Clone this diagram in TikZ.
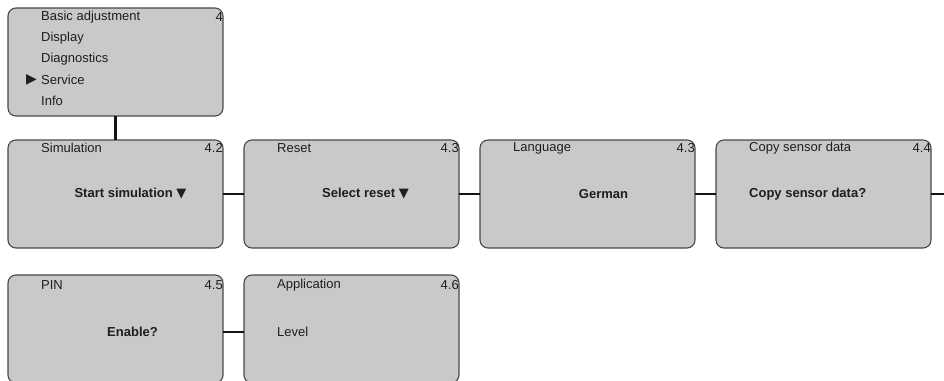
\documentclass[tikz,border=0pt]{standalone}
\usepackage{fontspec}
\setmainfont{Liberation Sans}
\newfontfamily\symfont{DejaVu Sans}
\usetikzlibrary{positioning}
\definecolor{panel}{RGB}{200,201,203}
\definecolor{rim}{RGB}{72,72,72}
\definecolor{ink}{RGB}{30,30,30}
\tikzset{
  screen/.style={draw=rim,line width=1.1pt,rounded corners=8pt,fill=panel,minimum width=215pt,minimum height=108pt,inner sep=0pt,outer sep=0pt},
  title/.style={anchor=west,inner sep=0pt,text=ink,font=\fontsize{13}{15}\selectfont},
  num/.style={anchor=east,inner sep=0pt,text=ink,font=\fontsize{13}{15}\selectfont},
  value/.style={inner sep=0pt,text=ink,font=\fontsize{13}{15}\selectfont\bfseries},
  link/.style={draw=black!92,line width=2.5pt}
}
\newcommand\downmark{{\symfont\fontsize{13}{15}\selectfont ▼}}

\begin{document}
\begin{tikzpicture}[node distance=21pt]
  \useasboundingbox (0,0) rectangle (944pt,-380pt);
  \coordinate (edge) at (944pt,0);
  % menu
  \node[screen,anchor=north west] (menu) at (8pt,-8pt) {};
  \foreach \item [count=\i from 0] in {Basic adjustment,Display,Diagnostics,Service,Info}
    \node[title] (item\i) at ([xshift=33pt,yshift=-9pt-21pt*\i]menu.north west) {\item};
  \node[num] (menunum) at ([yshift=-9pt]menu.north east) {4};
  \node[value,font=\symfont\fontsize{14}{16}\selectfont] (pointer) at ([xshift=23.5pt]menu.north west |- item3) {▶};
  % first row
  \node[screen,below=24pt of menu] (sim) {};
  \node[screen,right=of sim] (reset) {};
  \node[screen,right=of reset] (lang) {};
  \node[screen,right=of lang] (copy) {};
  % second row
  \node[screen,below=27pt of sim] (pin) {};
  \node[screen,right=of pin] (app) {};
  % titles and numbers
  \node[title] at ([xshift=33pt,yshift=-8pt]sim.north west) {Simulation};
  \node[num] at ([yshift=-8pt]sim.north east) {4.2};
  \node[title] at ([xshift=33pt,yshift=-8pt]reset.north west) {Reset};
  \node[num] at ([yshift=-8pt]reset.north east) {4.3};
  \node[title] at ([xshift=33pt,yshift=-8pt]lang.north west) {Language};
  \node[num] at ([yshift=-8pt]lang.north east) {4.3};
  \node[title] at ([xshift=33pt,yshift=-8pt]copy.north west) {Copy sensor data};
  \node[num] at ([yshift=-8pt]copy.north east) {4.4};
  \node[title] at ([xshift=33pt,yshift=-10pt]pin.north west) {PIN};
  \node[num] at ([yshift=-10pt]pin.north east) {4.5};
  \node[title] at ([xshift=33pt,yshift=-10pt]app.north west) {Application};
  \node[num] at ([yshift=-10pt]app.north east) {4.6};
  % values
  \node[value] at ([xshift=15pt]sim.center) {Start simulation \downmark};
  \node[value] at ([xshift=14pt]reset.center) {Select reset \downmark};
  \node[value] at ([xshift=16pt]lang.center) {German};
  \node[value,anchor=west] at ([xshift=33pt]copy.west) {Copy sensor data?};
  \node[value] at ([xshift=17pt,yshift=-3pt]pin.center) {Enable?};
  \node[title] at ([xshift=33pt,yshift=-3pt]app.west) {Level};
  % connectors
  \draw[link] (menu.south) -- (sim.north);
  \draw[link] (sim.east) -- (reset.west);
  \draw[link] (reset.east) -- (lang.west);
  \draw[link] (lang.east) -- (copy.west);
  \draw[link] (copy.east) -- (copy.east -| edge);
  \draw[link] ([yshift=-3pt]pin.east) -- ([yshift=-3pt]app.west);
\end{tikzpicture}
\end{document}
